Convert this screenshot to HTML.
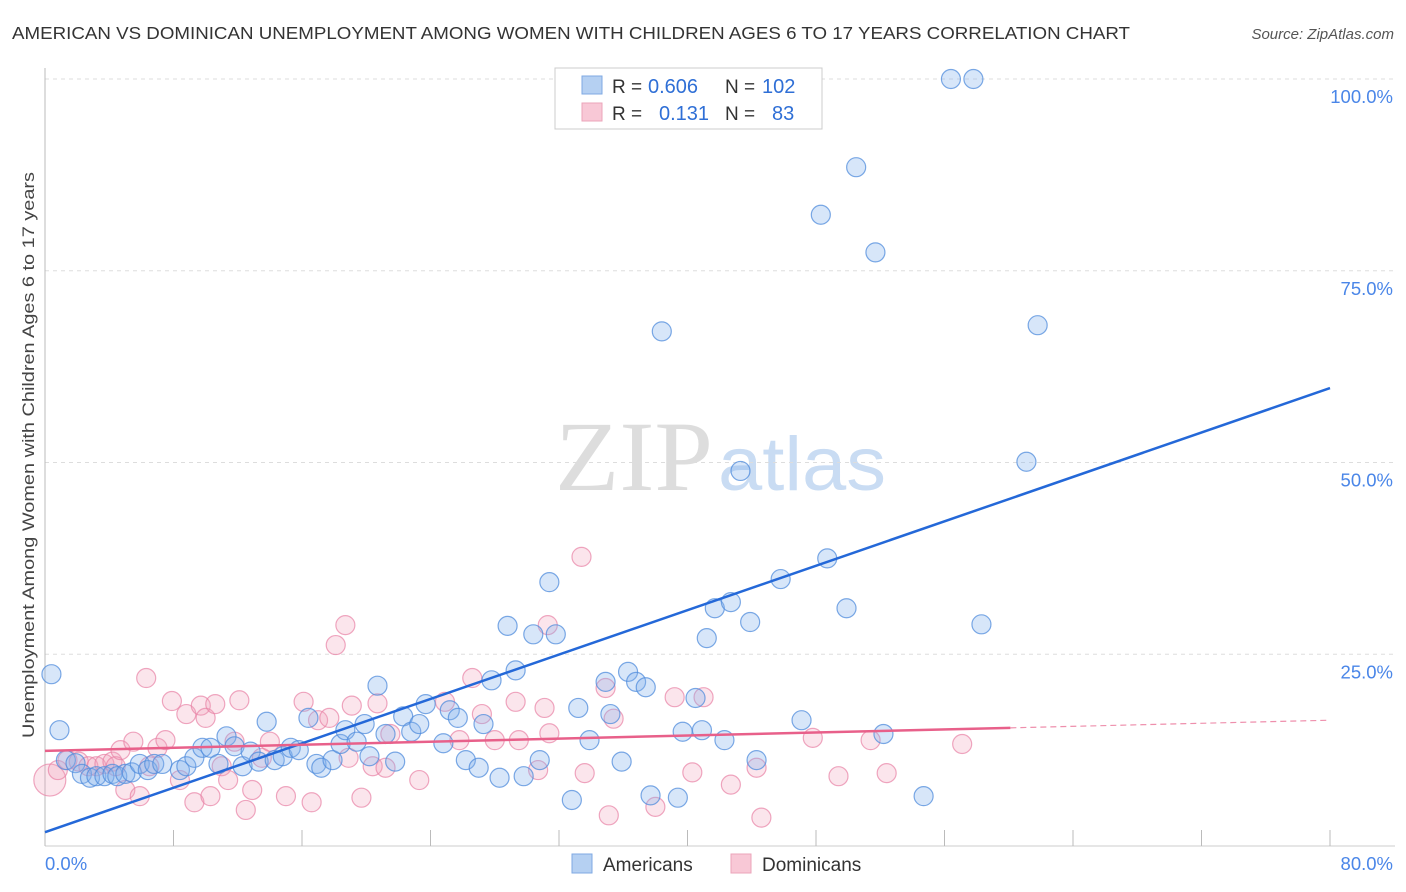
<!DOCTYPE html>
<html><head><meta charset="utf-8"><style>
body{margin:0;background:#fff;font-family:"Liberation Sans",sans-serif}
#wrap{position:relative;width:1406px;height:892px;overflow:hidden}
</style></head><body>
<div id="wrap">
<svg id="svg" width="1406" height="892" xmlns="http://www.w3.org/2000/svg">
<text x="12" y="39" font-size="17.5" fill="#333" textLength="1118" lengthAdjust="spacingAndGlyphs">AMERICAN VS DOMINICAN UNEMPLOYMENT AMONG WOMEN WITH CHILDREN AGES 6 TO 17 YEARS CORRELATION CHART</text>
<text x="1394" y="39" font-size="15" fill="#555" font-style="italic" text-anchor="end">Source: ZipAtlas.com</text>
<text x="555" y="490" font-size="100" fill="#ddd" font-family="Liberation Serif,serif" textLength="158" lengthAdjust="spacingAndGlyphs">ZIP</text>
<text x="718" y="490" font-size="76" fill="#c9dcf3" textLength="168" lengthAdjust="spacingAndGlyphs">atlas</text>
<text transform="translate(34,455) rotate(-90)" font-size="17" fill="#444" text-anchor="middle" textLength="566" lengthAdjust="spacingAndGlyphs">Unemployment Among Women with Children Ages 6 to 17 years</text>
<g id="grid"></g><g id="pts"></g><g id="lines"></g>
<text x="45" y="870" font-size="18.5" fill="#4a86e8">0.0%</text>
<text x="1393" y="870" font-size="18.5" fill="#4a86e8" text-anchor="end">80.0%</text>
<g>
<rect x="555" y="68" width="267" height="61" fill="#fff" stroke="#ccc"/>
<rect x="582" y="76" width="20" height="18" fill="#b5d0f2" stroke="#7fa9e3"/>
<rect x="582" y="103" width="20" height="18" fill="#f8c8d6" stroke="#eba4ba"/>
<text x="612" y="93" font-size="19" fill="#333">R =</text>
<text x="648" y="93" font-size="20" fill="#2f6fd6">0.606</text>
<text x="725" y="93" font-size="19" fill="#333">N =</text>
<text x="762" y="93" font-size="20" fill="#2f6fd6">102</text>
<text x="612" y="120" font-size="19" fill="#333">R =</text>
<text x="659" y="120" font-size="20" fill="#2f6fd6">0.131</text>
<text x="725" y="120" font-size="19" fill="#333">N =</text>
<text x="772" y="120" font-size="20" fill="#2f6fd6">83</text>
</g>
<g>
<rect x="572" y="854" width="20" height="19" fill="#b5d0f2" stroke="#7fa9e3"/>
<text x="603" y="871" font-size="19" fill="#333">Americans</text>
<rect x="731" y="854" width="20" height="19" fill="#f8c8d6" stroke="#eba4ba"/>
<text x="762" y="871" font-size="19" fill="#333">Dominicans</text>
</g>
</svg>
</div>
<script>
const yTicks=[25,50,75,100];
const xTicks=[0,8,16,24,32,40,48,56,64,72,80];
const amX=[0.4,0.9,1.3,1.9,2.3,2.8,3.2,3.7,4.2,4.5,5.0,5.4,5.9,6.4,6.8,7.3,8.4,8.8,9.3,9.8,10.3,10.8,11.3,11.8,12.3,12.8,13.3,13.8,14.3,14.8,15.3,15.8,16.4,16.9,17.2,17.9,18.4,18.7,19.4,19.9,20.2,20.7,21.2,21.8,22.3,22.8,23.3,23.7,24.8,25.2,25.7,26.2,27.0,27.3,27.8,28.3,28.8,29.3,29.8,30.4,30.8,31.4,31.8,32.8,33.2,33.9,34.9,35.2,35.9,36.3,36.8,37.4,37.7,38.4,39.4,39.7,40.5,40.9,41.2,41.7,42.3,42.7,43.3,43.9,44.3,45.8,47.1,48.3,48.7,49.9,50.5,51.7,52.2,54.7,56.4,57.8,58.3,61.1,61.8];
const amY=[22.4,15.1,11.2,10.8,9.4,8.9,9.1,9.1,9.4,9.1,9.4,9.6,10.7,9.9,10.7,10.7,9.9,10.4,11.5,12.8,12.8,10.7,14.3,13.0,10.4,12.3,11.0,16.2,11.2,11.7,12.8,12.5,16.7,10.7,10.2,11.2,13.3,15.1,13.6,15.9,11.7,20.9,14.6,11.0,16.9,14.9,15.9,18.5,13.4,17.7,16.7,11.2,10.2,15.9,21.6,8.9,28.7,22.9,9.1,27.6,11.2,34.4,27.6,6.0,18.0,13.8,21.4,17.2,11.0,22.7,21.4,20.7,6.6,67.1,6.3,14.9,19.3,15.1,27.1,31.0,13.8,31.8,48.9,29.2,11.2,34.8,16.4,82.3,37.5,31.0,88.5,77.4,14.6,6.5,100,100,28.9,50.1,67.9];
const doX=[0.3,0.8,1.4,2.1,2.7,3.2,3.7,4.2,4.4,4.7,5.0,5.5,5.9,6.3,6.5,7.0,7.5,7.9,8.4,8.8,9.3,9.7,10.0,10.3,10.6,11.0,11.4,11.8,12.1,12.5,12.9,13.5,14.0,15.0,16.1,16.6,17.0,17.7,18.1,18.7,18.9,19.1,19.7,20.4,20.7,21.2,21.5,23.3,24.9,25.8,26.6,27.2,28.0,29.3,29.5,30.7,31.1,31.3,31.4,33.4,33.6,34.9,35.1,35.4,38.0,39.2,40.3,41.0,42.7,44.3,44.6,47.8,49.4,51.4,52.4,57.1];
const doY=[8.6,9.9,11.2,11.0,10.4,10.4,10.7,11.0,10.4,12.5,7.3,13.6,6.5,21.9,10.4,12.8,13.8,18.9,8.6,17.2,5.7,18.3,16.7,6.5,18.5,10.4,8.6,13.6,19.0,4.7,7.3,11.5,13.6,6.5,18.8,5.7,16.4,16.7,26.2,28.8,11.5,18.3,6.3,10.4,18.6,10.2,14.6,8.6,18.8,13.8,21.9,17.2,13.8,18.8,13.8,9.9,18.0,28.8,14.7,37.7,9.5,20.6,4.0,16.6,5.1,19.4,9.6,19.4,8.0,10.2,3.7,14.1,9.1,13.8,9.5,13.3];
const amTrend=[1.8,59.7];
const doTrend=[12.4,16.4];
const doSolidEnd=60.1;
const NS="http://www.w3.org/2000/svg";
const X=v=>45+v/80*1285, Y=v=>846-v/100*767;
function mk(t,a,p){const e=document.createElementNS(NS,t);for(const k in a)e.setAttribute(k,a[k]);p.appendChild(e);return e;}
const g=document.getElementById('grid');
yTicks.forEach(t=>{
 const l=mk('line',{x1:45,x2:1395,y1:Y(t),y2:Y(t),stroke:'#ddd','stroke-dasharray':'4,4'},g);
 
 
 const tx=mk('text',{x:1393,y:Y(t)+24,'font-size':18.5,fill:'#4a86e8','text-anchor':'end'},g);
 tx.textContent=t.toFixed(1)+'%';
 
 
});
mk('line',{x1:45,x2:45,y1:68,y2:846,stroke:'#bbb'},g);
mk('line',{x1:45,x2:1395,y1:846,y2:846,stroke:'#ccc'},g);
xTicks.forEach(t=>{
 const l=mk('line',{x1:X(t),x2:X(t),y1:830,y2:846,stroke:'#bbb'},g);
 
 
});
const pg=document.getElementById('pts');
doX.forEach((x,i)=>{
 const c=mk('circle',{cx:X(x),cy:Y(doY[i]),r:i===0?16:9.5,fill:'rgba(242,160,188,0.28)',stroke:'rgba(232,130,165,0.7)','stroke-width':1.2},pg);
 
 
});
amX.forEach((x,i)=>{
 const c=mk('circle',{cx:X(x),cy:Y(amY[i]),r:9.5,fill:'rgba(130,178,235,0.32)',stroke:'rgba(80,140,220,0.75)','stroke-width':1.2},pg);
 
 
});
const lg=document.getElementById('lines');
const f=(tr,x)=>tr[0]+(tr[1]-tr[0])*x/80;
const bl=mk('line',{x1:X(0),y1:Y(f(amTrend,0)),x2:X(80),y2:Y(f(amTrend,80)),stroke:'#2468d8','stroke-width':2.5},lg);


const pl=mk('line',{x1:X(0),y1:Y(f(doTrend,0)),x2:X(doSolidEnd),y2:Y(f(doTrend,doSolidEnd)),stroke:'#e8608a','stroke-width':2.5},lg);


const pd=mk('line',{x1:X(doSolidEnd),y1:Y(f(doTrend,doSolidEnd)),x2:X(80),y2:Y(f(doTrend,80)),stroke:'#e8608a','stroke-width':1.2,'stroke-dasharray':'6,4','opacity':0.7},lg);


</script>
</body></html>
